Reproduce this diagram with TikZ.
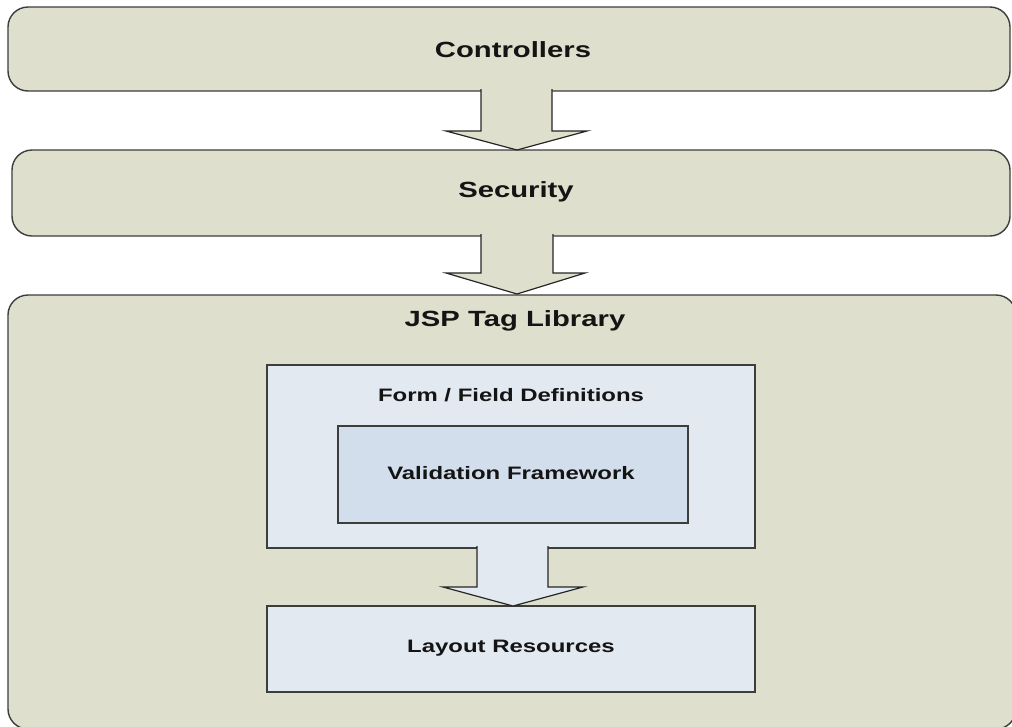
\documentclass[tikz,border=0pt]{standalone}
\usepackage{fontspec}
\setmainfont{Liberation Sans}
\definecolor{tan}{RGB}{222,224,205}
\definecolor{paleblue}{RGB}{226,233,241}
\definecolor{midblue}{RGB}{211,222,237}
\definecolor{edge}{RGB}{60,62,60}
\tikzset{
  layer/.style={draw=edge, line width=1.4pt, fill=tan, rounded corners=20pt},
  inbox/.style={draw=edge, line width=1.4pt},
  bigtxt/.style={font=\bfseries\fontsize{22}{26}\selectfont, text=black!92},
  smalltxt/.style={font=\bfseries\fontsize{18}{22}\selectfont, text=black!92},
  arrowline/.style={draw=black!85, line width=1.2pt, line join=miter}
}
\newcommand{\wide}[1]{\scalebox{1.33}[1]{#1}}
\begin{document}
\begin{tikzpicture}[x=1pt,y=-1pt]
\useasboundingbox (0,0) rectangle (1012,726);
\clip (0,0) rectangle (1012,726);
% layers
\draw[layer] (8,7) rectangle (1010,91);
\draw[layer] (12,150) rectangle (1010,236);
\draw[layer] (8,295) rectangle (1016,729);
% inner boxes
\draw[inbox, fill=paleblue] (267,365) rectangle (755,548);
\draw[inbox, fill=midblue] (338,426) rectangle (688,523);
\draw[inbox, fill=paleblue] (267,606) rectangle (755,692);
% text nodes
\node[bigtxt] (ctrl) at (513,50) {\wide{Controllers}};
\node[bigtxt] (sec) at (516,192) {\wide{Security}};
\node[bigtxt] (jsp) at (515,321) {\wide{JSP Tag Library}};
\node[smalltxt] (form) at (511,395) {\wide{Form / Field Definitions}};
\node[smalltxt] (valid) at (511,473) {\wide{Validation Framework}};
\node[smalltxt] (layout) at (511,648) {\wide{Layout Resources}};
% block arrows
\coordinate (a1) at (481,89);
\coordinate (a2) at (552,89);
\fill[tan] (a1) -- (481,131) -- (446,131) -- (517,150) -- (587,131) -- (552,131) -- (a2) -- cycle;
\draw[arrowline] (a1) -- (481,131) -- (446,131) -- (517,150) -- (587,131) -- (552,131) -- (a2);
\coordinate (b1) at (481,234);
\coordinate (b2) at (553,234);
\fill[tan] (b1) -- (481,273) -- (446,273) -- (517,294) -- (585,273) -- (553,273) -- (b2) -- cycle;
\draw[arrowline] (b1) -- (481,273) -- (446,273) -- (517,294) -- (585,273) -- (553,273) -- (b2);
\coordinate (c1) at (477,546);
\coordinate (c2) at (548,546);
\fill[paleblue] (c1) -- (477,587) -- (443,587) -- (513,606) -- (583,587) -- (548,587) -- (c2) -- cycle;
\draw[arrowline] (c1) -- (477,587) -- (443,587) -- (513,606) -- (583,587) -- (548,587) -- (c2);
\end{tikzpicture}
\end{document}
